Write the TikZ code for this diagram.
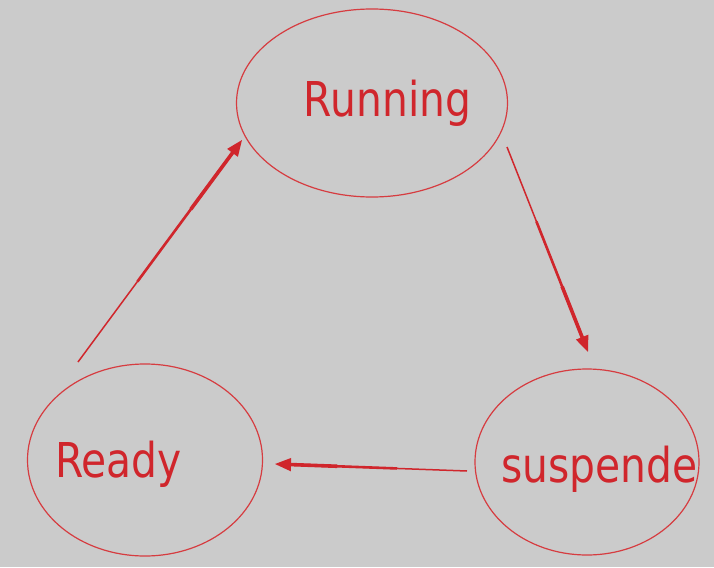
\documentclass[tikz,border=0pt]{standalone}
\usepackage{fontspec}
\setmainfont{DejaVu Sans}
\usetikzlibrary{shapes.geometric,arrows.meta}
\definecolor{bg}{RGB}{203,203,203}
\definecolor{rd}{RGB}{208,38,44}
\definecolor{rdline}{RGB}{214,60,64}
\tikzset{
  statebox/.style={ellipse, draw=rdline, line width=1.2pt, inner sep=0pt},
  lbl/.style={anchor=base, text=rd, inner sep=0pt, font=\fontsize{48}{56}\selectfont},
  conn/.style={draw=rd, line width=1.5pt, -{Triangle[length=16pt,width=13pt]}},
  thickA/.style={draw=rd, line width=2.6pt, shorten >=12pt},
  thickB/.style={draw=rd, line width=3.6pt, shorten >=12pt},
}
\newcommand{\sq}[1]{\scalebox{0.85}[1]{#1}}
\begin{document}
\begin{tikzpicture}[x=1pt,y=-1pt]
\fill[bg] (0,0) rectangle (714,567);
\useasboundingbox (0,0) rectangle (714,567);
% ellipses
\node[statebox, minimum width=271pt, minimum height=188pt] (run) at (372,103) {};
\node[statebox, minimum width=235pt, minimum height=192pt] (rdy) at (145,460) {};
\node[statebox, minimum width=224pt, minimum height=186pt] (sus) at (587,462) {};
% labels
\node[lbl] (runT) at (387.5,117) {\sq{Running}};
\node[lbl] (rdyT) at (118.5,477) {\sq{Ready}};
\node[lbl] (susT) at (599.5,482) {\sq{suspende}};
% connector end points
\coordinate (a1) at (78,362);
\coordinate (a2) at (242,140);
\coordinate (b1) at (507,147);
\coordinate (b2) at (588,352);
\coordinate (c1) at (467,471);
\coordinate (c2) at (275,464);
\draw[conn] (a1) -- (a2);
\draw[thickA, shorten <=100pt] (a1) -- (a2);
\draw[thickB, shorten <=190pt] (a1) -- (a2);
\draw[conn] (b1) -- (b2);
\draw[thickA, shorten <=80pt] (b1) -- (b2);
\draw[thickB, shorten <=150pt] (b1) -- (b2);
\draw[conn] (c1) -- (c2);
\draw[thickA, shorten <=70pt] (c1) -- (c2);
\draw[thickB, shorten <=130pt] (c1) -- (c2);
\end{tikzpicture}
\end{document}
